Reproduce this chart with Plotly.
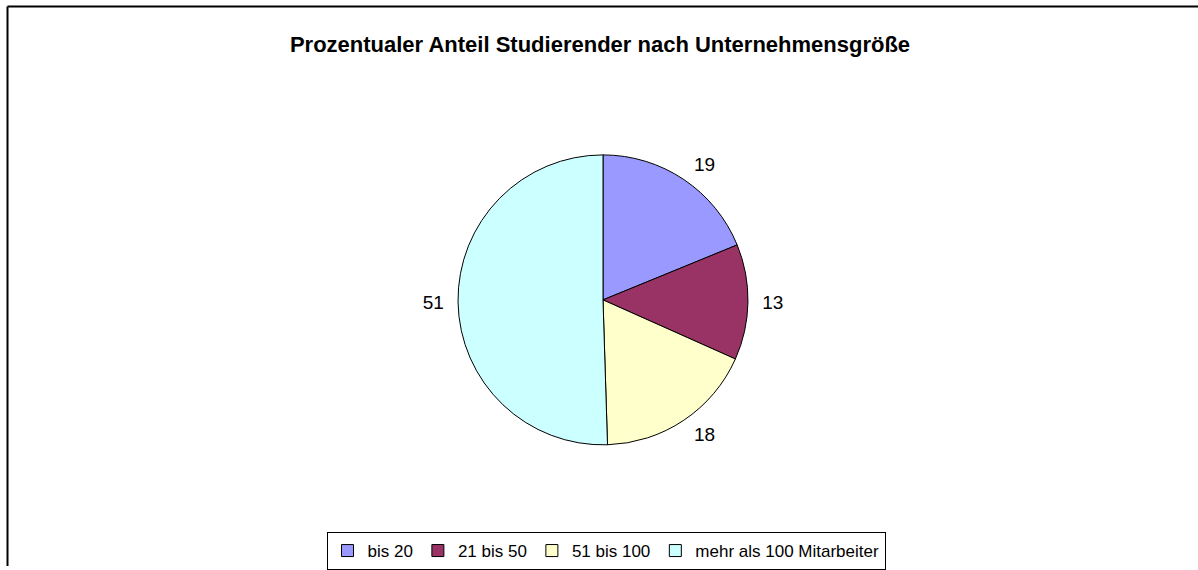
import plotly.graph_objects as go

categories = ["bis 20", "21 bis 50", "51 bis 100", "mehr als 100 Mitarbeiter"]
values = [19, 13, 18, 51]
colors = ["#9999FF", "#993366", "#FFFFCC", "#CCFFFF"]
title_text = "Prozentualer Anteil Studierender nach Unternehmensgröße"

W, H = 1198, 570
FONT = "Liberation Sans, Arial, sans-serif"


def px(x):
    return x / W


def py(y):
    return 1 - y / H


cx, cy, r = 603, 302, 146
r_lab = 155

fig = go.Figure()
fig.add_trace(go.Pie(
    labels=categories,
    values=values,
    sort=False,
    direction="clockwise",
    rotation=0,
    marker=dict(colors=colors, line=dict(color="black", width=1)),
    textinfo="none",
    domain=dict(x=[px(cx - r), px(cx + r)], y=[py(cy + r), py(cy - r)]),
    showlegend=True,
    hoverinfo="label+value",
))
# transparent copy used only to place the outside value labels a bit further out
fig.add_trace(go.Pie(
    labels=categories,
    values=values,
    sort=False,
    direction="clockwise",
    rotation=0,
    marker=dict(colors=["rgba(0,0,0,0)"] * len(values), line=dict(width=0)),
    textinfo="value",
    textposition="outside",
    textfont=dict(family=FONT, size=19, color="black"),
    domain=dict(x=[px(cx - r_lab), px(cx + r_lab)], y=[py(cy + r_lab), py(cy - r_lab)]),
    showlegend=False,
    hoverinfo="skip",
))

fig.update_layout(
    width=W, height=H,
    margin=dict(l=0, r=0, t=0, b=0),
    paper_bgcolor="white",
    plot_bgcolor="white",
    title=dict(
        text="<b>" + title_text + "</b>",
        font=dict(family=FONT, size=22, color="black"),
        x=px(600), xanchor="center", y=py(44), yanchor="middle",
    ),
    legend=dict(
        orientation="h",
        x=px(606), xanchor="center",
        y=py(536), yanchor="top",
        bordercolor="black", borderwidth=1,
        font=dict(family=FONT, size=17, color="black"),
        itemwidth=30,
        tracegroupgap=0,
    ),
    shapes=[
        dict(type="line", xref="paper", yref="paper", x0=px(7.5), x1=px(7.5), y0=0, y1=py(6.5),
             line=dict(color="black", width=2)),
        dict(type="line", xref="paper", yref="paper", x0=px(7.5), x1=1, y0=py(6.5), y1=py(6.5),
             line=dict(color="black", width=2)),
    ],
)

fig.write_html("out.html", config={"displayModeBar": False},
               post_script="document.body.style.margin='0';")
